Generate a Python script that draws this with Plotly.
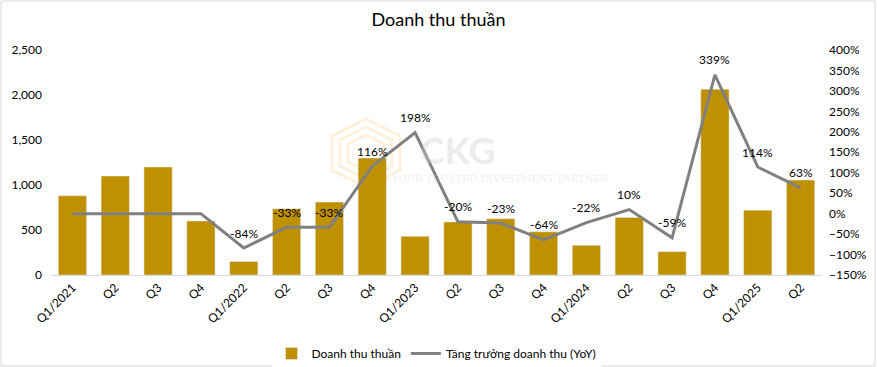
import plotly.graph_objects as go

quarters = ["Q1/2021", "Q2", "Q3", "Q4", "Q1/2022", "Q2", "Q3", "Q4", "Q1/2023", "Q2", "Q3", "Q4",
            "Q1/2024", "Q2", "Q3", "Q4", "Q1/2025", "Q2"]
revenue = [880, 1100, 1200, 600, 150, 735, 810, 1300, 430, 590, 625, 480, 330, 640, 260, 2065, 720, 1055]
yoy = [0, 0, 0, 0, -0.84, -0.33, -0.33, 1.16, 1.98, -0.20, -0.23, -0.64, -0.22, 0.10, -0.59, 3.39, 1.14, 0.63]
yoy_labels = ["", "", "", "", "-84%", "-33%", "-33%", "116%", "198%", "-20%", "-23%", "-64%",
              "-22%", "10%", "-59%", "339%", "114%", "63%"]
left_ticks = [0, 500, 1000, 1500, 2000, 2500]
right_ticks = [-1.5, -1.0, -0.5, 0, 0.5, 1.0, 1.5, 2.0, 2.5, 3.0, 3.5, 4.0]

x = list(range(len(quarters)))
font = "Lato, Carlito, Arial, sans-serif"

W, H = 877, 367
ML, MR, MT, MB = 51, 55, 50, 92
PW, PH = W - ML - MR, H - MT - MB


def px(xp):
    return (xp - ML) / PW


def py(yp):
    return (H - MB - yp) / PH


fig = go.Figure()
fig.add_trace(go.Bar(x=x, y=revenue, name="Doanh thu thuần", marker_color="#BF9000",
                     yaxis="y"))
fig.add_trace(go.Scatter(x=x, y=yoy, name="Tăng trưởng doanh thu (YoY)", mode="lines",
                         line=dict(color="#808080", width=3), yaxis="y2"))

# data labels above the line points
for xi, yi, lab in zip(x, yoy, yoy_labels):
    if lab:
        fig.add_annotation(x=xi, y=yi, xref="x", yref="y2", text=lab, showarrow=False,
                           yshift=15, font=dict(size=12, color="#000000", family=font))

fig.update_layout(
    width=W, height=H,
    margin=dict(l=ML, r=MR, t=MT, b=MB, autoexpand=False),
    paper_bgcolor="white", plot_bgcolor="white",
    font=dict(family=font, size=12, color="#000000"),
    title=dict(text="Doanh thu thuần", x=0.5, xanchor="center", y=1 - 20 / H, yanchor="middle",
               font=dict(size=18, color="#000000", family=font)),
    bargap=0.34,
    showlegend=True,
    legend=dict(orientation="h", x=0.5, xanchor="center", y=1 - 339 / H, yref="container",
                yanchor="top", font=dict(size=12, color="#000000"), itemwidth=30,
                traceorder="normal"),
    xaxis=dict(tickmode="array", tickvals=x, ticktext=quarters, tickangle=-45,
               range=[-0.5, len(x) - 0.5], showline=True, linecolor="#D9D9D9", linewidth=1,
               showgrid=False, ticks="", tickfont=dict(size=12), automargin=False),
    yaxis=dict(range=[0, 2500], tickvals=left_ticks, tickformat=",", showgrid=False,
               zeroline=False, ticks="", tickfont=dict(size=12), automargin=False,
               ticklabelstandoff=8),
    yaxis2=dict(range=[-1.5, 4.0], tickvals=right_ticks, tickformat=".0%", overlaying="y",
                side="right", showgrid=False, zeroline=False, ticks="", tickfont=dict(size=12),
                automargin=False, ticklabelstandoff=6),
)

# watermark logo (pale nested hexagon outlines)
cx, cy = 366, 153
for r in [34, 26, 18]:
    pts = [(cx, cy - r), (cx + r, cy - r / 2), (cx + r, cy + r / 2), (cx, cy + r),
           (cx - r, cy + r / 2), (cx - r, cy - r / 2)]
    path = "M " + " L ".join(f"{px(a):.4f},{py(b):.4f}" for a, b in pts) + " Z"
    fig.add_shape(type="path", xref="paper", yref="paper", path=path,
                  line=dict(color="rgba(253,225,170,0.45)", width=3), layer="below")

# watermark text
fig.add_annotation(text="<b>CKG</b>", xref="paper", yref="paper", x=px(457), y=py(149),
                   showarrow=False, font=dict(size=37, color="rgba(205,205,205,0.4)", family=font))
fig.add_annotation(text="YOUR TRUSTED INVESTMENT PARTNER", xref="paper", yref="paper", x=px(500),
                   y=py(179), showarrow=False,
                   font=dict(size=10, color="rgba(205,205,205,0.35)", family="DejaVu Serif"))

# chart border
fig.add_shape(type="rect", xref="paper", yref="paper", x0=px(1), x1=px(W - 2), y0=py(H - 1),
              y1=py(1), line=dict(color="#D9D9D9", width=1), layer="below")

fig.write_html("out.html", config={"displayModeBar": False},
               post_script="document.body.style.margin='0';")
